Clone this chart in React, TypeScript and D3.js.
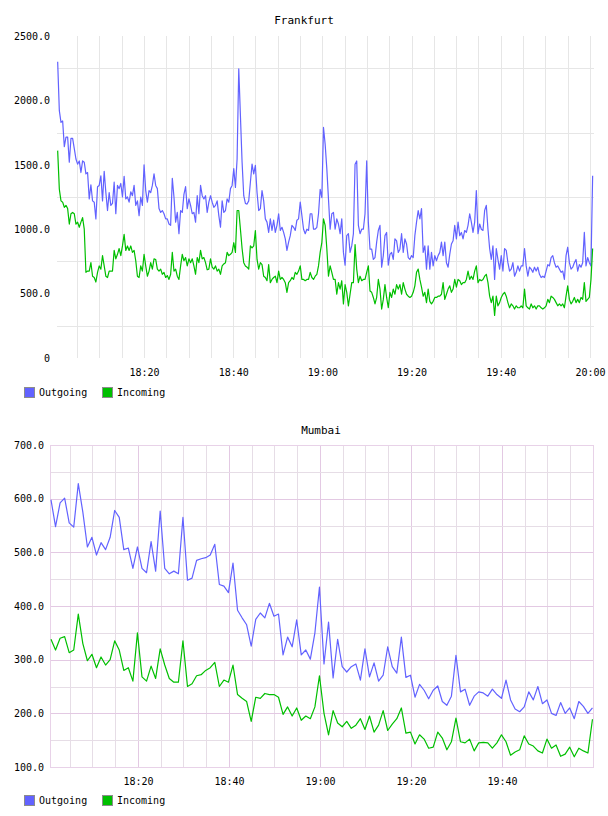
import React, { useEffect, useRef } from 'react'
import * as d3 from 'd3'

// Frankfurt: one sample roughly every 22 s
const frankfurtStart = '18:00:39'
const frankfurtStepSec = 22.35
const frankfurtOutgoing = [
  2300, 1920, 1830, 1840, 1640, 1715, 1715, 1520, 1705, 1705,
  1625, 1545, 1505, 1530, 1440, 1530, 1520, 1430, 1440, 1235,
  1345, 1220, 1210, 1080, 1330, 1340, 1415, 1220, 1450, 1285,
  1145, 1285, 1185, 1200, 1365, 1120, 1340, 1315, 1355, 1250,
  1410, 1235, 1250, 1210, 1290, 1260, 1340, 1185, 1220, 1105,
  1250, 1185, 1500, 1300, 1210, 1300, 1285, 1340, 1430, 1340,
  1315, 1160, 1130, 1145, 1120, 1080, 1080, 1040, 1030, 1395,
  1250, 1055, 1130, 965, 1145, 1130, 1270, 1330, 1160, 1235,
  1185, 1120, 1130, 1055, 1260, 1120, 1340, 1260, 1235, 1260,
  1130, 1210, 1260, 1210, 1170, 1185, 1220, 1105, 1015, 1220,
  1130, 1145, 1235, 1210, 1315, 1340, 1470,
  1325, 1545, 2245, 1880, 1520, 1260, 1200, 1195, 1220, 1365,
  1505, 1430, 1495, 1285, 1145, 1160, 1300, 1220, 1080, 1055,
  975, 1080, 990, 1070, 975, 1030, 1120, 990, 1015, 975,
  925, 835, 900, 950, 1030, 1015, 990, 1070, 1080, 1210,
  1105, 1000, 965, 1000, 990, 1120, 1120, 1000, 1000, 1015,
  1120, 1310, 1245, 1790, 1660, 1470, 1235, 1000, 1120, 1130,
  1000, 1080, 1040, 965, 1080, 820, 720, 950, 965, 820,
  870, 965, 1505, 1530, 1030, 965, 1000, 1000, 1120, 1530,
  1055, 845, 845, 765, 780, 900, 990, 1030, 705, 795,
  950, 975, 720, 805, 820, 765, 925, 910, 820, 845,
  965, 820, 925, 885, 780, 765, 795, 780, 950, 1055,
  1145,
  1080, 1160, 820, 870, 690, 870, 690, 820, 715, 795,
  755, 795, 820, 900, 795, 900, 740, 705, 805, 885,
  910, 1030, 925, 1055, 950, 975, 925, 990, 975, 1030,
  1120, 1055, 975, 1055, 1300, 965, 1040, 1000, 990, 1145,
  1185, 1000, 850, 765, 870, 610, 850, 765, 690, 795,
  675, 850, 835, 740, 675, 690, 740, 635, 665, 715,
  675, 715, 715, 850, 715, 635, 705, 690, 665, 705,
  675, 705, 650, 625, 635, 625, 675, 725, 715, 780,
  795, 740, 705, 715, 690, 665, 675, 610, 795, 860,
  740, 690, 705, 740, 765, 675, 725, 705, 740, 975,
  715, 780, 740, 715, 1415,
]
const frankfurtIncoming = [
  1610, 1310, 1220, 1210, 1170, 1185, 1160, 1040, 1120, 1130,
  1120, 1040, 1055, 1015, 1055, 1090, 1000, 665, 675, 675,
  740, 635, 625, 590, 665, 715, 690, 795, 715, 635,
  625, 675, 675, 675, 835, 770, 805, 850, 795, 870,
  960, 835, 870, 835, 870, 820, 835, 755, 635, 625,
  715, 675, 805, 715, 635, 675, 740, 690, 770, 765,
  690, 675, 690, 650, 665, 625, 640, 610, 650, 820,
  675, 690, 635, 610, 715, 805, 755, 780, 715, 770,
  740, 770, 715, 650, 780, 740, 835, 770, 780, 740,
  685, 690, 770, 705, 690, 715, 675, 690, 650, 715,
  730, 740, 820, 795, 805, 820, 895,
  820, 1145, 1145, 1000, 850, 740, 715, 705, 690, 870,
  855, 870, 990, 765, 690, 740, 725, 635, 625, 600,
  725, 585, 610, 625, 635, 585, 675, 610, 625, 610,
  585, 510, 585, 600, 625, 610, 665, 650, 675, 715,
  610, 610, 600, 610, 610, 665, 625, 610, 635, 650,
  715, 820, 895, 1080, 1030, 850, 635, 715, 665, 610,
  610, 495, 585, 535, 600, 420, 570, 510, 405, 495,
  585, 585, 880, 690, 585, 635, 600, 610, 610, 665,
  715, 520, 510, 470, 420, 470, 610, 535, 380, 455,
  570, 470, 390, 510, 470, 535, 495, 570, 535, 570,
  495, 585, 535, 495, 480, 470, 480, 510, 560, 665,
  690,
  610, 550, 480, 510, 430, 535, 440, 420, 440, 470,
  470, 480, 480, 495, 585, 455, 495, 535, 560, 510,
  535, 610, 550, 610, 600, 570, 585, 585, 610, 675,
  610, 635, 610, 675, 715, 585, 610, 600, 610, 635,
  650, 585, 480, 430, 480, 330, 480, 405, 430, 470,
  495, 510, 480, 430, 390, 420, 405, 380, 405, 390,
  390, 405, 390, 535, 405, 390, 380, 420, 390, 405,
  380, 405, 405, 390, 380, 390, 405, 455, 430, 480,
  470, 455, 430, 405, 420, 405, 420, 390, 480, 560,
  455, 420, 440, 470, 430, 455, 430, 470, 455, 585,
  440, 455, 470, 610, 850,
]

// Mumbai: one sample per minute
const mumbaiStart = '18:00:53'
const mumbaiStepSec = 60
const mumbaiOutgoing = [
  598, 548, 592, 601, 555, 547, 628, 575, 510, 528,
  495, 518, 505, 528, 578, 565, 505, 508, 470, 510,
  470, 462, 520, 465, 577, 470, 460, 465, 460, 565,
  448, 452, 485, 488, 490, 495, 515, 440, 437, 425,
  480, 392, 378, 365, 325, 375, 387, 378, 405, 381,
  385, 309, 342, 324, 374, 309, 318, 301, 350, 435,
  292, 370, 266, 338, 287, 277, 287, 292, 262, 320,
  268, 294, 260, 271, 324, 287, 275, 342, 267, 271,
  230, 254, 243, 227, 243, 251, 222, 215, 232, 308,
  240, 245, 215, 232, 240, 238, 232, 245, 235, 228,
  262, 225, 208, 203, 212, 240, 225, 250, 218, 225,
  200, 196, 220, 200, 210, 190, 222, 213, 200, 210,
]
const mumbaiIncoming = [
  338, 318, 340, 343, 313, 318, 385, 330, 298, 310,
  285, 305, 290, 300, 335, 318, 280, 285, 260, 350,
  268, 260, 288, 265, 320, 290, 265, 258, 258, 335,
  250, 255, 270, 272, 280, 285, 295, 250, 262, 258,
  290, 235, 228, 222, 185, 230, 228, 237, 235, 235,
  230, 198, 212, 195, 210, 187, 195, 190, 212, 270,
  200, 160, 205, 182, 175, 185, 172, 178, 190, 170,
  195, 165, 178, 205, 168, 180, 190, 210, 163, 165,
  143, 160, 152, 135, 137, 165, 154, 132, 147, 191,
  147, 145, 152, 130, 145, 146, 145, 135, 145, 160,
  147, 122, 128, 132, 158, 143, 139, 130, 126, 152,
  135, 141, 120, 124, 137, 119, 135, 130, 126, 189,
]

const seriesNames = ['Outgoing', 'Incoming']
const seriesColors = ['#6262ff', '#00bf00']

const frankfurtYTicks = [0, 500, 1000, 1500, 2000, 2500]
const frankfurtTimeTicks = ['18:20', '18:40', '19:00', '19:20', '19:40', '20:00']
const mumbaiYTicks = [100, 200, 300, 400, 500, 600, 700]
const mumbaiTimeTicks = ['18:20', '18:40', '19:00', '19:20', '19:40']

const FONT = "'DejaVu Sans Mono', monospace"
const parseTime = d3.timeParse('%H:%M:%S')
const at = (s: string) => parseTime(s.length === 5 ? s + ':00' : s) as Date

const buildSeries = (start: string, stepSec: number, values: number[]) => {
  const t0 = at(start).getTime()
  return values.map((v, i) => ({ t: new Date(t0 + i * stepSec * 1000), v }))
}

const frankfurt = {
  title: 'Frankfurt',
  titleX: 304,
  titleY: 24,
  series: [
    buildSeries(frankfurtStart, frankfurtStepSec, frankfurtOutgoing),
    buildSeries(frankfurtStart, frankfurtStepSec, frankfurtIncoming),
  ],
  xDomain: ['18:00:30', '20:00:54'],
  left: 57,
  right: 594,
  top: 36,
  bottom: 358,
  yDomain: [0, 2500],
  yTicks: frankfurtYTicks,
  yFormat: (d: number) => (d === 0 ? '0' : d.toFixed(1)),
  yPad: 7,
  timeTicks: frankfurtTimeTicks,
  minorY: [250, 750, 1250, 1750, 2250],
  majorY: [],
  minorColor: '#e6e6e6',
  majorColor: '#e6e6e6',
  majorMinutes: 0,
  border: null,
  legendY: 387,
}

const mumbai = {
  title: 'Mumbai',
  titleX: 321,
  titleY: 434,
  series: [
    buildSeries(mumbaiStart, mumbaiStepSec, mumbaiOutgoing),
    buildSeries(mumbaiStart, mumbaiStepSec, mumbaiIncoming),
  ],
  xDomain: ['18:00:40', '20:00:00'],
  left: 50,
  right: 593,
  top: 445,
  bottom: 767,
  yDomain: [100, 700],
  yTicks: mumbaiYTicks,
  yFormat: (d: number) => d.toFixed(1),
  yPad: 6,
  timeTicks: mumbaiTimeTicks,
  minorY: [150, 250, 350, 450, 550, 650],
  majorY: [200, 300, 400, 500, 600],
  minorColor: '#e6dde6',
  majorColor: '#e3c9e3',
  majorMinutes: 20,
  border: '#e8d2e8',
  legendY: 795,
}

const Chart = ({ cfg }) => {
  const ref = useRef<SVGGElement>(null)

  useEffect(() => {
    const g = d3.select(ref.current)
    g.selectAll('*').remove()

    const x = d3
      .scaleTime()
      .domain(cfg.xDomain.map(at))
      .range([cfg.left, cfg.right])
    const y = d3.scaleLinear().domain(cfg.yDomain).range([cfg.bottom, cfg.top])

    g.append('text') // title
      .attr('x', cfg.titleX)
      .attr('y', cfg.titleY)
      .attr('text-anchor', 'middle')
      .attr('font-family', FONT)
      .attr('font-size', 11)
      .attr('fill', '#000')
      .text(cfg.title)

    const grid = g.append('g').attr('shape-rendering', 'crispEdges')

    const minorX = x.ticks(d3.timeMinute.every(5))
    grid // vertical minor lines
      .selectAll('line.vx')
      .data(minorX.filter(d => !cfg.majorMinutes || d.getMinutes() % cfg.majorMinutes !== 0))
      .join('line')
      .attr('x1', d => Math.round(x(d)) + 0.5)
      .attr('x2', d => Math.round(x(d)) + 0.5)
      .attr('y1', cfg.top)
      .attr('y2', cfg.bottom)
      .attr('stroke', cfg.minorColor)

    if (cfg.majorMinutes) {
      grid // vertical major lines
        .selectAll('line.vX')
        .data(minorX.filter(d => d.getMinutes() % cfg.majorMinutes === 0))
        .join('line')
        .attr('x1', d => Math.round(x(d)) + 0.5)
        .attr('x2', d => Math.round(x(d)) + 0.5)
        .attr('y1', cfg.top)
        .attr('y2', cfg.bottom)
        .attr('stroke', cfg.majorColor)
    }

    grid // horizontal minor
      .append('g')
      .selectAll('line')
      .data(cfg.minorY)
      .join('line')
      .attr('x1', cfg.left)
      .attr('x2', cfg.right)
      .attr('y1', d => Math.round(y(d)) + 0.5)
      .attr('y2', d => Math.round(y(d)) + 0.5)
      .attr('stroke', cfg.minorColor)

    grid // horizontal major
      .append('g')
      .selectAll('line')
      .data(cfg.majorY)
      .join('line')
      .attr('x1', cfg.left)
      .attr('x2', cfg.right)
      .attr('y1', d => Math.round(y(d)) + 0.5)
      .attr('y2', d => Math.round(y(d)) + 0.5)
      .attr('stroke', cfg.majorColor)

    if (cfg.border) {
      grid
        .append('rect')
        .attr('x', cfg.left + 0.5)
        .attr('y', cfg.top + 0.5)
        .attr('width', cfg.right - cfg.left)
        .attr('height', cfg.bottom - cfg.top)
        .attr('fill', 'none')
        .attr('stroke', cfg.border)
        .attr('stroke-width', 1.5)
    }

    const line = d3
      .line<{ t: Date; v: number }>()
      .x(d => x(d.t))
      .y(d => y(d.v))

    g.append('g') // series
      .selectAll('path')
      .data(cfg.series)
      .join('path')
      .attr('d', d => line(d))
      .attr('fill', 'none')
      .attr('stroke', (d, i) => seriesColors[i])
      .attr('stroke-width', 1.2)
      .attr('stroke-linejoin', 'round')

    const yAxis = g
      .append('g')
      .attr('transform', `translate(${cfg.left},0)`)
      .call(
        d3
          .axisLeft(y)
          .tickValues(cfg.yTicks)
          .tickFormat(cfg.yFormat)
          .tickSize(0)
          .tickPadding(cfg.yPad),
      )
    yAxis.select('.domain').remove()
    yAxis.attr('font-family', FONT).attr('font-size', 10)

    const xAxis = g
      .append('g')
      .attr('transform', `translate(0,${cfg.bottom})`)
      .call(
        d3
          .axisBottom(x)
          .tickValues(cfg.timeTicks.map(at))
          .tickFormat(d3.timeFormat('%H:%M'))
          .tickSize(0)
          .tickPadding(11),
      )
    xAxis.select('.domain').remove()
    xAxis.attr('font-family', FONT).attr('font-size', 10)

    const legend = g
      .append('g')
      .selectAll('g')
      .data(seriesNames)
      .join('g')
      .attr('transform', (d, i) => `translate(${24 + i * 78},${cfg.legendY})`)
    legend
      .append('rect')
      .attr('x', 0.5)
      .attr('y', 0.5)
      .attr('width', 10)
      .attr('height', 10)
      .attr('fill', (d, i) => seriesColors[i])
      .attr('stroke', '#8c8c8c')
    legend
      .append('text')
      .attr('x', 15)
      .attr('y', 9)
      .attr('font-family', FONT)
      .attr('font-size', 10)
      .attr('fill', '#000')
      .text(d => d)
  }, [cfg])

  return <g ref={ref} />
}

const App = () => (
  <svg
    width={608}
    height={816}
    style={{ position: 'absolute', left: 0, top: 0, background: '#fff' }}
  >
    <Chart cfg={frankfurt} />
    <Chart cfg={mumbai} />
  </svg>
)

export default App
